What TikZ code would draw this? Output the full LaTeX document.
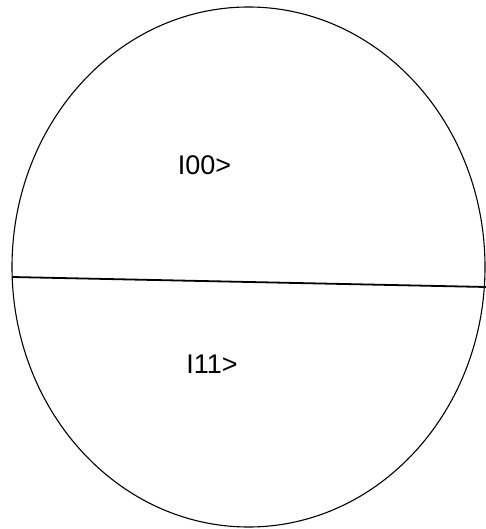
\documentclass[tikz,border=0pt]{standalone}
\usepackage{fontspec}
\setmainfont{Liberation Sans}
\begin{document}
\begin{tikzpicture}[x=1pt,y=-1pt,
  outline/.style={draw=black,line width=1.1pt},
  divider/.style={draw=black,line width=1.8pt},
  ket/.style={font=\fontsize{27}{27}\selectfont,inner sep=0pt,anchor=base}]
\useasboundingbox (0,0) rectangle (486,529);
\draw[outline] (248.5,267) ellipse [x radius=236.5, y radius=260];
\coordinate (l) at (12,277);
\coordinate (r) at (486,287);
\draw[divider] (l) -- (r);
\node[ket] (k0) at (204.5,175) {I00>};
\node[ket] (k1) at (212,373) {I11>};
\end{tikzpicture}
\end{document}
